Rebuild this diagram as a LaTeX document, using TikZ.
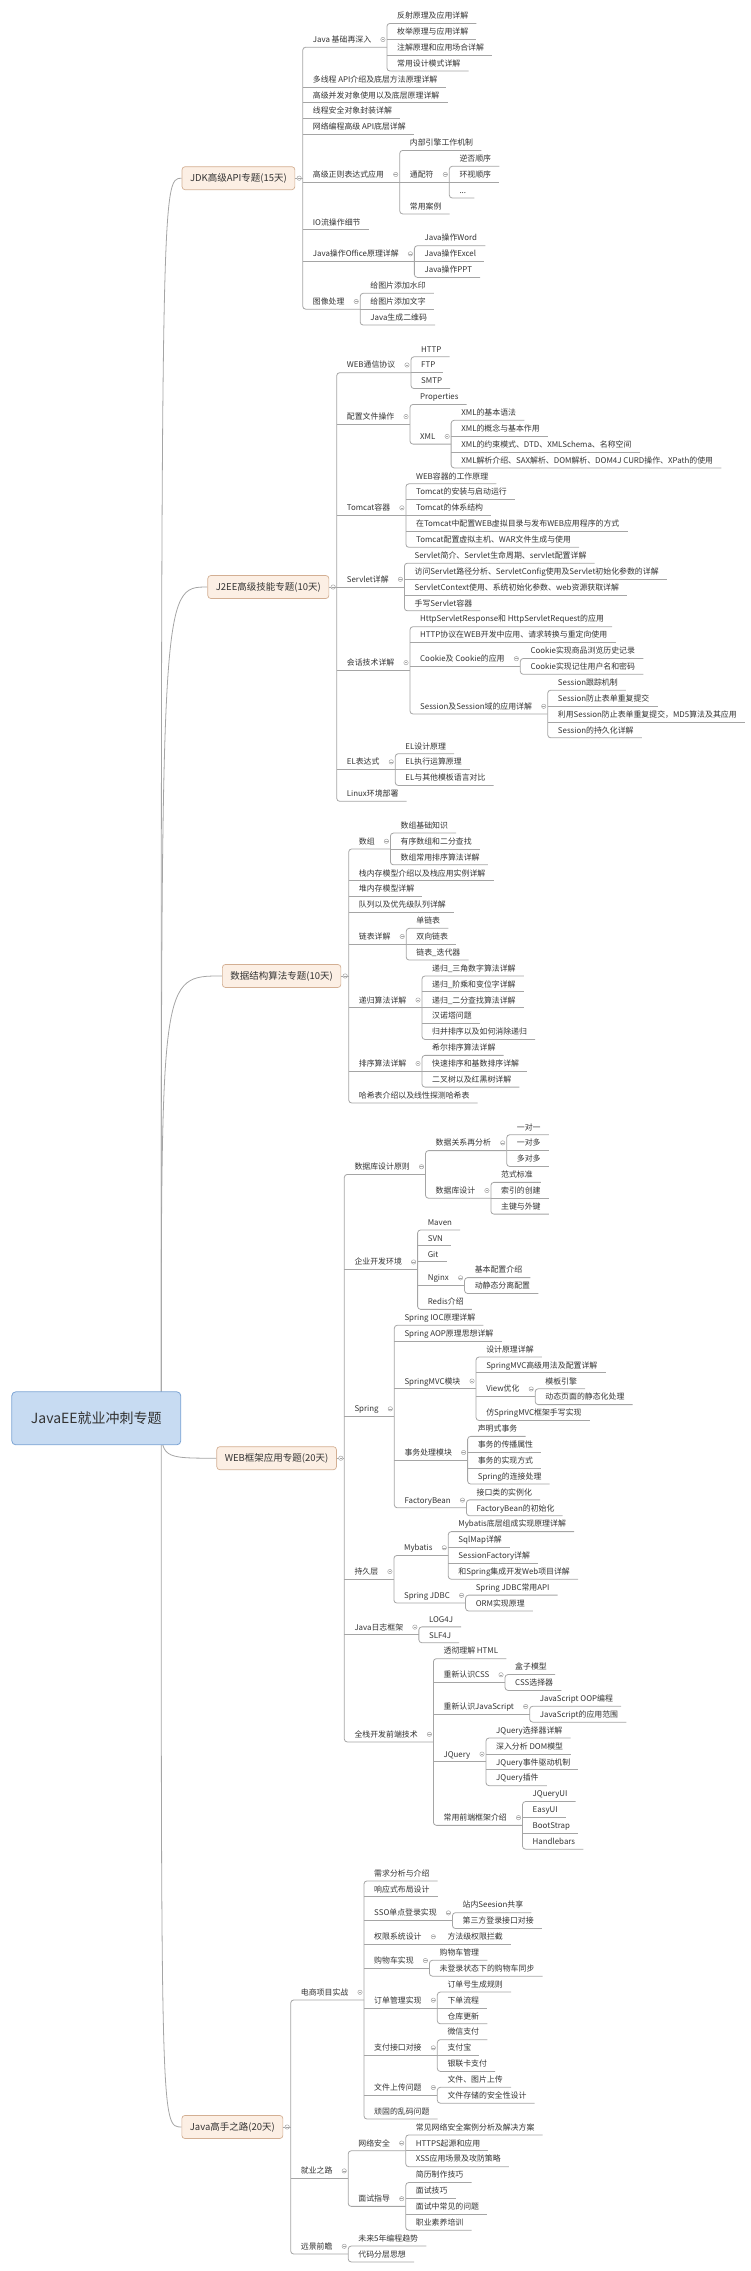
\documentclass[tikz,border=0pt]{standalone}
\usepackage{fontspec}
\setmainfont{Noto Sans CJK SC}
\usetikzlibrary{calc,backgrounds}

\definecolor{lineg}{HTML}{A5A5A5}
\definecolor{topicfill}{HTML}{FCEFE4}
\definecolor{topicline}{HTML}{D3AF93}
\definecolor{rootfill}{HTML}{C7DBF2}
\definecolor{rootline}{HTML}{7CA4D4}
\definecolor{ink}{HTML}{333333}

\tikzset{
	txt/.style={anchor=west, inner sep=0pt, text height=6.5pt, text depth=0.5pt, font=\fontsize{7.9}{9}\selectfont, text=ink},
	conn/.style={draw=lineg, line width=0.8pt},
	topic/.style={anchor=east, draw=topicline, fill=topicfill, line width=0.7pt, rounded corners=3pt, inner xsep=8pt, inner ysep=0pt, minimum height=23pt, font=\fontsize{9.5}{11}\selectfont, text=ink},
	centre/.style={draw=rootline, fill=rootfill, line width=0.8pt, rounded corners=4pt, minimum width=169pt, minimum height=53pt, font=\fontsize{14}{16}\selectfont, text=ink},
	tog/.style={draw=lineg, fill=white, line width=0.5pt},
	togbar/.style={draw=lineg, line width=0.5pt},
}

% row -> y of the text centre
\def\rowy#1{-(15.7+15.876*(#1))*1pt}
% main topic box: name, right x, middle row, text
\def\topicat#1#2#3#4{%
	\node[topic] (#1) at (#2pt,{\rowy{#3}-7.7pt}) {#4};
	\coordinate (#1-e) at ([xshift=7.5pt]#1.east);
	\coordinate (#1-t) at ([xshift=4pt]#1.east);
	\draw[conn] (#1.east) -- (#1-e);
	\draw[tog] (#1-t) circle (2.2pt);
	\draw[togbar] ([xshift=-1.3pt]#1-t) -- ([xshift=1.3pt]#1-t);
}
% text topic on the spine of #2
\def\kid#1#2#3#4{%
	\path let \p1=(#2-e) in node[txt] (#1) at ({\x1+10pt},{\rowy{#3}}) {#4};
	\coordinate (#1-e) at ([xshift=8pt,yshift=-7.7pt]#1.east);
}
% topic with children
\def\hub#1{%
	\coordinate (#1-e) at ([xshift=15.5pt,yshift=-7.7pt]#1.east);
	\coordinate (#1-t) at ([xshift=11.5pt]#1.east);
	\draw[tog] (#1-t) circle (2.2pt);
	\draw[togbar] ([xshift=-1.3pt]#1-t) -- ([xshift=1.3pt]#1-t);
}
\def\fan#1#2#3{\draw[conn, rounded corners=3pt] (#2-e) -- (#1-e |- #2-e) -- (#1-e |- #3-e) -- (#3-e);}
\def\stubs#1#2{\foreach \nm in {#2} {\draw[conn] (#1-e |- \nm-e) -- (\nm-e);}}

\begin{document}
\begin{tikzpicture}[x=1pt,y=1pt]
	%%%%% START %%%%%
	\useasboundingbox (0,0) rectangle (750,-2271);
	
	\node[centre] (root) at (96.3,-1418.3) {JavaEE就业冲刺专题};
	
	%%%%% JDK
	\topicat{t1}{295.2}{9.75}{JDK高级API专题(15天)}
	\kid{a1}{t1}{1.5}{Java 基础再深入}\hub{a1}
		\kid{a11}{a1}{0}{反射原理及应用详解}
		\kid{a12}{a1}{1}{枚举原理与应用详解}
		\kid{a13}{a1}{2}{注解原理和应用场合详解}
		\kid{a14}{a1}{3}{常用设计模式详解}
		\fan{a1}{a11}{a14}\stubs{a1}{a12,a13}
	\kid{a2}{t1}{4}{多线程 API介绍及底层方法原理详解}
	\kid{a3}{t1}{5}{高级并发对象使用以及底层原理详解}
	\kid{a4}{t1}{6}{线程安全对象封装详解}
	\kid{a5}{t1}{7}{网络编程高级 API底层详解}
	\kid{a6}{t1}{10}{高级正则表达式应用}\hub{a6}
		\kid{a61}{a6}{8}{内部引擎工作机制}
		\kid{a62}{a6}{10}{通配符}\hub{a62}
			\kid{a621}{a62}{9}{逆否顺序}
			\kid{a622}{a62}{10}{环视顺序}
			\kid{a623}{a62}{11}{...}
			\fan{a62}{a621}{a623}\stubs{a62}{a622}
		\kid{a63}{a6}{12}{常用案例}
		\fan{a6}{a61}{a63}\stubs{a6}{a62}
	\kid{a7}{t1}{13}{IO流操作细节}
	\kid{a8}{t1}{15}{Java操作Office原理详解}\hub{a8}
		\kid{a81}{a8}{14}{Java操作Word}
		\kid{a82}{a8}{15}{Java操作Excel}
		\kid{a83}{a8}{16}{Java操作PPT}
		\fan{a8}{a81}{a83}\stubs{a8}{a82}
	\kid{a9}{t1}{18}{图像处理}\hub{a9}
		\kid{a91}{a9}{17}{给图片添加水印}
		\kid{a92}{a9}{18}{给图片添加文字}
		\kid{a93}{a9}{19}{Java生成二维码}
		\fan{a9}{a91}{a93}\stubs{a9}{a92}
	\fan{t1}{a1}{a9}\stubs{t1}{a2,a3,a4,a5,a6,a7,a8}
	
	%%%%% J2EE
	\topicat{t2}{329.2}{35.5}{J2EE高级技能专题(10天)}
	\kid{b1}{t2}{22}{WEB通信协议}\hub{b1}
		\kid{b11}{b1}{21}{HTTP}
		\kid{b12}{b1}{22}{FTP}
		\kid{b13}{b1}{23}{SMTP}
		\fan{b1}{b11}{b13}\stubs{b1}{b12}
	\kid{b2}{t2}{25.25}{配置文件操作}\hub{b2}
		\kid{b21}{b2}{24}{Properties}
		\kid{b22}{b2}{26.5}{XML}\hub{b22}
			\kid{b221}{b22}{25}{XML的基本语法}
			\kid{b222}{b22}{26}{XML的概念与基本作用}
			\kid{b223}{b22}{27}{XML的约束模式、DTD、XMLSchema、名称空间}
			\kid{b224}{b22}{28}{XML解析介绍、SAX解析、DOM解析、DOM4J CURD操作、XPath的使用}
			\fan{b22}{b221}{b224}\stubs{b22}{b222,b223}
		\fan{b2}{b21}{b22}
	\kid{b3}{t2}{31}{Tomcat容器}\hub{b3}
		\kid{b31}{b3}{29}{WEB容器的工作原理}
		\kid{b32}{b3}{30}{Tomcat的安装与启动运行}
		\kid{b33}{b3}{31}{Tomcat的体系结构}
		\kid{b34}{b3}{32}{在Tomcat中配置WEB虚拟目录与发布WEB应用程序的方式}
		\kid{b35}{b3}{33}{Tomcat配置虚拟主机、WAR文件生成与使用}
		\fan{b3}{b31}{b35}\stubs{b3}{b32,b33,b34}
	\kid{b4}{t2}{35.5}{Servlet详解}\hub{b4}
		\kid{b41}{b4}{34}{Servlet简介、Servlet生命周期、servlet配置详解}
		\kid{b42}{b4}{35}{访问Servlet路径分析、ServletConfig使用及Servlet初始化参数的详解}
		\kid{b43}{b4}{36}{ServletContext使用、系统初始化参数、web资源获取详解}
		\kid{b44}{b4}{37}{手写Servlet容器}
		\fan{b4}{b41}{b44}\stubs{b4}{b42,b43}
	\kid{b5}{t2}{40.75}{会话技术详解}\hub{b5}
		\kid{b51}{b5}{38}{HttpServletResponse和 HttpServletRequest的应用}
		\kid{b52}{b5}{39}{HTTP协议在WEB开发中应用、请求转换与重定向使用}
		\kid{b53}{b5}{40.5}{Cookie及 Cookie的应用}\hub{b53}
			\kid{b531}{b53}{40}{Cookie实现商品浏览历史记录}
			\kid{b532}{b53}{41}{Cookie实现记住用户名和密码}
			\fan{b53}{b531}{b532}
		\kid{b54}{b5}{43.5}{Session及Session域的应用详解}\hub{b54}
			\kid{b541}{b54}{42}{Session跟踪机制}
			\kid{b542}{b54}{43}{Session防止表单重复提交}
			\kid{b543}{b54}{44}{利用Session防止表单重复提交，MD5算法及其应用}
			\kid{b544}{b54}{45}{Session的持久化详解}
			\fan{b54}{b541}{b544}\stubs{b54}{b542,b543}
		\fan{b5}{b51}{b54}\stubs{b5}{b52,b53}
	\kid{b6}{t2}{47}{EL表达式}\hub{b6}
		\kid{b61}{b6}{46}{EL设计原理}
		\kid{b62}{b6}{47}{EL执行运算原理}
		\kid{b63}{b6}{48}{EL与其他模板语言对比}
		\fan{b6}{b61}{b63}\stubs{b6}{b62}
	\kid{b7}{t2}{49}{Linux环境部署}
	\fan{t2}{b1}{b7}\stubs{t2}{b2,b3,b4,b5,b6}
	
	%%%%% data structures
	\topicat{t3}{341.2}{60}{数据结构算法专题(10天)}
	\kid{c1}{t3}{52}{数组}\hub{c1}
		\kid{c11}{c1}{51}{数组基础知识}
		\kid{c12}{c1}{52}{有序数组和二分查找}
		\kid{c13}{c1}{53}{数组常用排序算法详解}
		\fan{c1}{c11}{c13}\stubs{c1}{c12}
	\kid{c2}{t3}{54}{栈内存模型介绍以及栈应用实例详解}
	\kid{c3}{t3}{55}{堆内存模型详解}
	\kid{c4}{t3}{56}{队列以及优先级队列详解}
	\kid{c5}{t3}{58}{链表详解}\hub{c5}
		\kid{c51}{c5}{57}{单链表}
		\kid{c52}{c5}{58}{双向链表}
		\kid{c53}{c5}{59}{链表\_迭代器}
		\fan{c5}{c51}{c53}\stubs{c5}{c52}
	\kid{c6}{t3}{62}{递归算法详解}\hub{c6}
		\kid{c61}{c6}{60}{递归\_三角数字算法详解}
		\kid{c62}{c6}{61}{递归\_阶乘和变位字详解}
		\kid{c63}{c6}{62}{递归\_二分查找算法详解}
		\kid{c64}{c6}{63}{汉诺塔问题}
		\kid{c65}{c6}{64}{归并排序以及如何消除递归}
		\fan{c6}{c61}{c65}\stubs{c6}{c62,c63,c64}
	\kid{c7}{t3}{66}{排序算法详解}\hub{c7}
		\kid{c71}{c7}{65}{希尔排序算法详解}
		\kid{c72}{c7}{66}{快速排序和基数排序详解}
		\kid{c73}{c7}{67}{二叉树以及红黑树详解}
		\fan{c7}{c71}{c73}\stubs{c7}{c72}
	\kid{c8}{t3}{68}{哈希表介绍以及线性探测哈希表}
	\fan{t3}{c1}{c8}\stubs{t3}{c2,c3,c4,c5,c6,c7}
	
	%%%%% WEB frameworks
	\topicat{t4}{336.8}{90.375}{WEB框架应用专题(20天)}
	\kid{d1}{t4}{72.5}{数据库设计原则}\hub{d1}
		\kid{d11}{d1}{71}{数据关系再分析}\hub{d11}
			\kid{d111}{d11}{70}{一对一}
			\kid{d112}{d11}{71}{一对多}
			\kid{d113}{d11}{72}{多对多}
			\fan{d11}{d111}{d113}\stubs{d11}{d112}
		\kid{d12}{d1}{74}{数据库设计}\hub{d12}
			\kid{d121}{d12}{73}{范式标准}
			\kid{d122}{d12}{74}{索引的创建}
			\kid{d123}{d12}{75}{主键与外键}
			\fan{d12}{d121}{d123}\stubs{d12}{d122}
		\fan{d1}{d11}{d12}
	\kid{d2}{t4}{78.5}{企业开发环境}\hub{d2}
		\kid{d21}{d2}{76}{Maven}
		\kid{d22}{d2}{77}{SVN}
		\kid{d23}{d2}{78}{Git}
		\kid{d24}{d2}{79.5}{Nginx}\hub{d24}
			\kid{d241}{d24}{79}{基本配置介绍}
			\kid{d242}{d24}{80}{动静态分离配置}
			\fan{d24}{d241}{d242}
		\kid{d25}{d2}{81}{Redis介绍}
		\fan{d2}{d21}{d25}\stubs{d2}{d22,d23,d24}
	\kid{d3}{t4}{87.75}{Spring}\hub{d3}
		\kid{d31}{d3}{82}{Spring IOC原理详解}
		\kid{d32}{d3}{83}{Spring AOP原理思想详解}
		\kid{d33}{d3}{86}{SpringMVC模块}\hub{d33}
			\kid{d331}{d33}{84}{设计原理详解}
			\kid{d332}{d33}{85}{SpringMVC高级用法及配置详解}
			\kid{d333}{d33}{86.5}{View优化}\hub{d333}
				\kid{d3331}{d333}{86}{模板引擎}
				\kid{d3332}{d333}{87}{动态页面的静态化处理}
				\fan{d333}{d3331}{d3332}
			\kid{d334}{d33}{88}{仿SpringMVC框架手写实现}
			\fan{d33}{d331}{d334}\stubs{d33}{d332,d333}
		\kid{d34}{d3}{90.5}{事务处理模块}\hub{d34}
			\kid{d341}{d34}{89}{声明式事务}
			\kid{d342}{d34}{90}{事务的传播属性}
			\kid{d343}{d34}{91}{事务的实现方式}
			\kid{d344}{d34}{92}{Spring的连接处理}
			\fan{d34}{d341}{d344}\stubs{d34}{d342,d343}
		\kid{d35}{d3}{93.5}{FactoryBean}\hub{d35}
			\kid{d351}{d35}{93}{接口类的实例化}
			\kid{d352}{d35}{94}{FactoryBean的初始化}
			\fan{d35}{d351}{d352}
		\fan{d3}{d31}{d35}\stubs{d3}{d32,d33,d34}
	\kid{d4}{t4}{98}{持久层}\hub{d4}
		\kid{d41}{d4}{96.5}{Mybatis}\hub{d41}
			\kid{d411}{d41}{95}{Mybatis底层组成实现原理详解}
			\kid{d412}{d41}{96}{SqlMap详解}
			\kid{d413}{d41}{97}{SessionFactory详解}
			\kid{d414}{d41}{98}{和Spring集成开发Web项目详解}
			\fan{d41}{d411}{d414}\stubs{d41}{d412,d413}
		\kid{d42}{d4}{99.5}{Spring JDBC}\hub{d42}
			\kid{d421}{d42}{99}{Spring JDBC常用API}
			\kid{d422}{d42}{100}{ORM实现原理}
			\fan{d42}{d421}{d422}
		\fan{d4}{d41}{d42}
	\kid{d5}{t4}{101.5}{Java日志框架}\hub{d5}
		\kid{d51}{d5}{101}{LOG4J}
		\kid{d52}{d5}{102}{SLF4J}
		\fan{d5}{d51}{d52}
	\kid{d6}{t4}{108.25}{全栈开发前端技术}\hub{d6}
		\kid{d61}{d6}{103}{透彻理解 HTML}
		\kid{d62}{d6}{104.5}{重新认识CSS}\hub{d62}
			\kid{d621}{d62}{104}{盒子模型}
			\kid{d622}{d62}{105}{CSS选择器}
			\fan{d62}{d621}{d622}
		\kid{d63}{d6}{106.5}{重新认识JavaScript}\hub{d63}
			\kid{d631}{d63}{106}{JavaScript OOP编程}
			\kid{d632}{d63}{107}{JavaScript的应用范围}
			\fan{d63}{d631}{d632}
		\kid{d64}{d6}{109.5}{JQuery}\hub{d64}
			\kid{d641}{d64}{108}{JQuery选择器详解}
			\kid{d642}{d64}{109}{深入分析 DOM模型}
			\kid{d643}{d64}{110}{JQuery事件驱动机制}
			\kid{d644}{d64}{111}{JQuery插件}
			\fan{d64}{d641}{d644}\stubs{d64}{d642,d643}
		\kid{d65}{d6}{113.5}{常用前端框架介绍}\hub{d65}
			\kid{d651}{d65}{112}{JQueryUI}
			\kid{d652}{d65}{113}{EasyUI}
			\kid{d653}{d65}{114}{BootStrap}
			\kid{d654}{d65}{115}{Handlebars}
			\fan{d65}{d651}{d654}\stubs{d65}{d652,d653}
		\fan{d6}{d61}{d65}\stubs{d6}{d62,d63,d64}
	\fan{t4}{d1}{d6}\stubs{t4}{d2,d3,d4,d5}
	
	%%%%% Java master
	\topicat{t5}{283.2}{132.5}{Java高手之路(20天)}
	\kid{e1}{t5}{124.5}{电商项目实战}\hub{e1}
		\kid{e11}{e1}{117}{需求分析与介绍}
		\kid{e12}{e1}{118}{响应式布局设计}
		\kid{e13}{e1}{119.5}{SSO单点登录实现}\hub{e13}
			\kid{e131}{e13}{119}{站内Seesion共享}
			\kid{e132}{e13}{120}{第三方登录接口对接}
			\fan{e13}{e131}{e132}
		\kid{e14}{e1}{121}{权限系统设计}\hub{e14}
			\kid{e141}{e14}{121}{方法级权限拦截}
			\draw[conn] (e14-e |- e141-e) -- (e141-e);
		\kid{e15}{e1}{122.5}{购物车实现}\hub{e15}
			\kid{e151}{e15}{122}{购物车管理}
			\kid{e152}{e15}{123}{未登录状态下的购物车同步}
			\fan{e15}{e151}{e152}
		\kid{e16}{e1}{125}{订单管理实现}\hub{e16}
			\kid{e161}{e16}{124}{订单号生成规则}
			\kid{e162}{e16}{125}{下单流程}
			\kid{e163}{e16}{126}{仓库更新}
			\fan{e16}{e161}{e163}\stubs{e16}{e162}
		\kid{e17}{e1}{128}{支付接口对接}\hub{e17}
			\kid{e171}{e17}{127}{微信支付}
			\kid{e172}{e17}{128}{支付宝}
			\kid{e173}{e17}{129}{银联卡支付}
			\fan{e17}{e171}{e173}\stubs{e17}{e172}
		\kid{e18}{e1}{130.5}{文件上传问题}\hub{e18}
			\kid{e181}{e18}{130}{文件、图片上传}
			\kid{e182}{e18}{131}{文件存储的安全性设计}
			\fan{e18}{e181}{e182}
		\kid{e19}{e1}{132}{顽固的乱码问题}
		\fan{e1}{e11}{e19}\stubs{e1}{e12,e13,e14,e15,e16,e17,e18}
	\kid{e2}{t5}{135.75}{就业之路}\hub{e2}
		\kid{e21}{e2}{134}{网络安全}\hub{e21}
			\kid{e211}{e21}{133}{常见网络安全案例分析及解决方案}
			\kid{e212}{e21}{134}{HTTPS起源和应用}
			\kid{e213}{e21}{135}{XSS应用场景及攻防策略}
			\fan{e21}{e211}{e213}\stubs{e21}{e212}
		\kid{e22}{e2}{137.5}{面试指导}\hub{e22}
			\kid{e221}{e22}{136}{简历制作技巧}
			\kid{e222}{e22}{137}{面试技巧}
			\kid{e223}{e22}{138}{面试中常见的问题}
			\kid{e224}{e22}{139}{职业素养培训}
			\fan{e22}{e221}{e224}\stubs{e22}{e222,e223}
		\fan{e2}{e21}{e22}
	\kid{e3}{t5}{140.5}{远景前瞻}\hub{e3}
		\kid{e31}{e3}{140}{未来5年编程趋势}
		\kid{e32}{e3}{141}{代码分层思想}
		\fan{e3}{e31}{e32}
	\fan{t5}{e1}{e3}\stubs{t5}{e2}
	
	% curves from the centre
	\coordinate (rs) at ([xshift=-20pt]root.east);
	\begin{scope}[on background layer]
		\foreach \i in {1,...,5}
			\draw[conn] (rs) .. controls (rs |- t\i.west) .. (t\i.west);
	\end{scope}
	
	%%%%% END %%%%%
\end{tikzpicture}
\end{document}
